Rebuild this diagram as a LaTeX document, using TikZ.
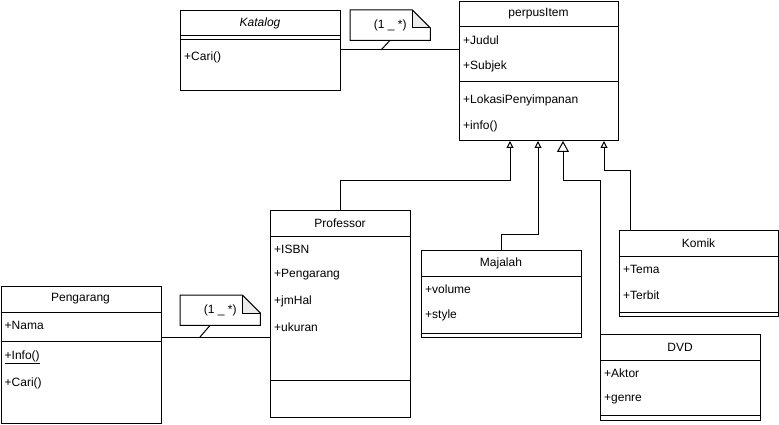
\documentclass[tikz,border=0pt]{standalone}
\usepackage{fontspec}
\setmainfont{Liberation Sans}
\usetikzlibrary{arrows.meta, positioning, calc}

\begin{document}
\begin{tikzpicture}[
  x=1pt, y=-1pt,
  cls/.style={rectangle, draw, line width=1pt, anchor=north west, inner sep=0pt},
  ttl/.style={font=\fontsize{12}{14}\selectfont, inner sep=0pt},
  attr/.style={anchor=west, font=\fontsize{12}{14}\selectfont, inner sep=0pt},
  note/.style={rectangle, minimum width=80pt, minimum height=30pt, inner sep=0pt,
               anchor=north west, font=\fontsize{12}{14}\selectfont},
  inh/.style={-{Triangle[open, length=7pt, width=7pt]}, line width=1pt},
  inhbig/.style={-{Triangle[open, length=11pt, width=12pt]}, line width=1pt},
  line/.style={line width=1pt}
]
\useasboundingbox (0,0) rectangle (779,425);

% classes
\node[cls, minimum width=160pt, minimum height=80pt] (kat) at (180,10) {};
\node[ttl] at ($(kat.north west)+(80,13)$) {\textit{Katalog}};
\draw[line] ($(kat.north west)+(0,26)$) -- ++(160,0);
\draw[line] ($(kat.north west)+(0,30)$) -- ++(160,0);
\node[attr] at ($(kat.north west)+(4,47)$) {+Cari()};

\node[cls, minimum width=159pt, minimum height=139pt] (item) at (459,1) {};
\node[ttl] at ($(item.north west)+(79.5,13)$) {perpusItem};
\draw[line] ($(item.north west)+(0,26)$) -- ++(159,0);
\draw[line] ($(item.north west)+(0,81)$) -- ++(159,0);
\foreach \t [count=\i] in {+Judul, +Subjek}
  \node[attr] at ($(item.north west)+(4,13+26*\i)$) {\t};
\foreach \t [count=\i] in {+LokasiPenyimpanan, +info()}
  \node[attr] at ($(item.north west)+(4,73+26*\i)$) {\t};

\node[cls, minimum width=140pt, minimum height=207pt] (prof) at (270,210) {};
\node[ttl] at ($(prof.north west)+(70,13)$) {Professor};
\draw[line] ($(prof.north west)+(0,26)$) -- ++(140,0);
\draw[line] ($(prof.north west)+(0,170)$) -- ++(140,0);
\foreach \t [count=\i] in {+ISBN, +Pengarang, +jmHal, +ukuran}
  \node[attr] at ($(prof.north west)+(4,13+26*\i)$) {\t};

\node[cls, minimum width=160pt, minimum height=137pt] (peng) at (0.5,286) {};
\node[ttl] at ($(peng.north west)+(80,13)$) {Pengarang};
\draw[line] ($(peng.north west)+(0,26)$) -- ++(160,0);
\draw[line] ($(peng.north west)+(0,55)$) -- ++(160,0);
\node[attr] at ($(peng.north west)+(4,39)$) {+Nama};
\node[attr] at ($(peng.north west)+(4,71)$) {\underline{+Info()}};
\node[attr] at ($(peng.north west)+(4,97)$) {+Cari()};

\node[cls, minimum width=160pt, minimum height=87pt] (maj) at (421,250) {};
\node[ttl] at ($(maj.north west)+(80,13)$) {Majalah};
\draw[line] ($(maj.north west)+(0,26)$) -- ++(160,0);
\draw[line] ($(maj.north west)+(0,83)$) -- ++(160,0);
\foreach \t [count=\i] in {+volume, +style}
  \node[attr] at ($(maj.north west)+(4,13+26*\i)$) {\t};

\node[cls, minimum width=159pt, minimum height=86pt] (komik) at (619,230) {};
\node[ttl] at ($(komik.north west)+(79.5,13)$) {Komik};
\draw[line] ($(komik.north west)+(0,26)$) -- ++(159,0);
\draw[line] ($(komik.north west)+(0,82)$) -- ++(159,0);
\foreach \t [count=\i] in {+Tema, +Terbit}
  \node[attr] at ($(komik.north west)+(4,13+26*\i)$) {\t};

\node[cls, minimum width=160pt, minimum height=86pt] (dvd) at (600,334) {};
\node[ttl] at ($(dvd.north west)+(80,13)$) {DVD};
\draw[line] ($(dvd.north west)+(0,26)$) -- ++(160,0);
\draw[line] ($(dvd.north west)+(0,81)$) -- ++(160,0);
\foreach \t [count=\i] in {+Aktor, +genre}
  \node[attr] at ($(dvd.north west)+(4,13+26*\i)$) {\t};

% notes
\node[note] (n1) at (350,10) {(1 \_ *)};
\node[note] (n2) at (180,295) {(1 \_ *)};
\foreach \n in {n1, n2} {
  \fill[gray!15] ($(\n.north east)+(-18,0)$) -- ($(\n.north east)+(-18,18)$) -- ($(\n.north east)+(0,18)$) -- cycle;
  \draw[line] (\n.north west) -- ($(\n.north east)+(-18,0)$) -- ($(\n.north east)+(0,18)$)
    -- (\n.south east) -- (\n.south west) -- cycle;
  \draw[line] ($(\n.north east)+(-18,0)$) -- ($(\n.north east)+(-18,18)$) -- ($(\n.north east)+(0,18)$);
}

% associations
\coordinate (a1) at (0,50);
\coordinate (a2) at (0,337);
\draw[line] (kat.east |- a1) -- (item.west |- a1);
\draw[line] (peng.east |- a2) -- (prof.west |- a2);
\draw[line] ($(n1.south west)+(40,0)$) -- (381,50);
\draw[line] ($(n2.south west)+(30,0)$) -- (200,337);

% generalizations
\coordinate (g1) at ($(item.south west)+(51,0)$);
\coordinate (g2) at ($(item.south west)+(79,0)$);
\coordinate (g3) at ($(item.south west)+(104,0)$);
\coordinate (g4) at ($(item.south west)+(145,0)$);
\draw[inh] (prof.north) -- ++(0,-30) -| (g1);
\draw[inh] (maj.north) -- ++(0,-16) -| (g2);
\draw[inhbig] (dvd.north west) -- ++(0,-154) -| (g3);
\draw[inh] ($(komik.north west)+(11,0)$) -- ++(0,-60) -| (g4);
\end{tikzpicture}
\end{document}
